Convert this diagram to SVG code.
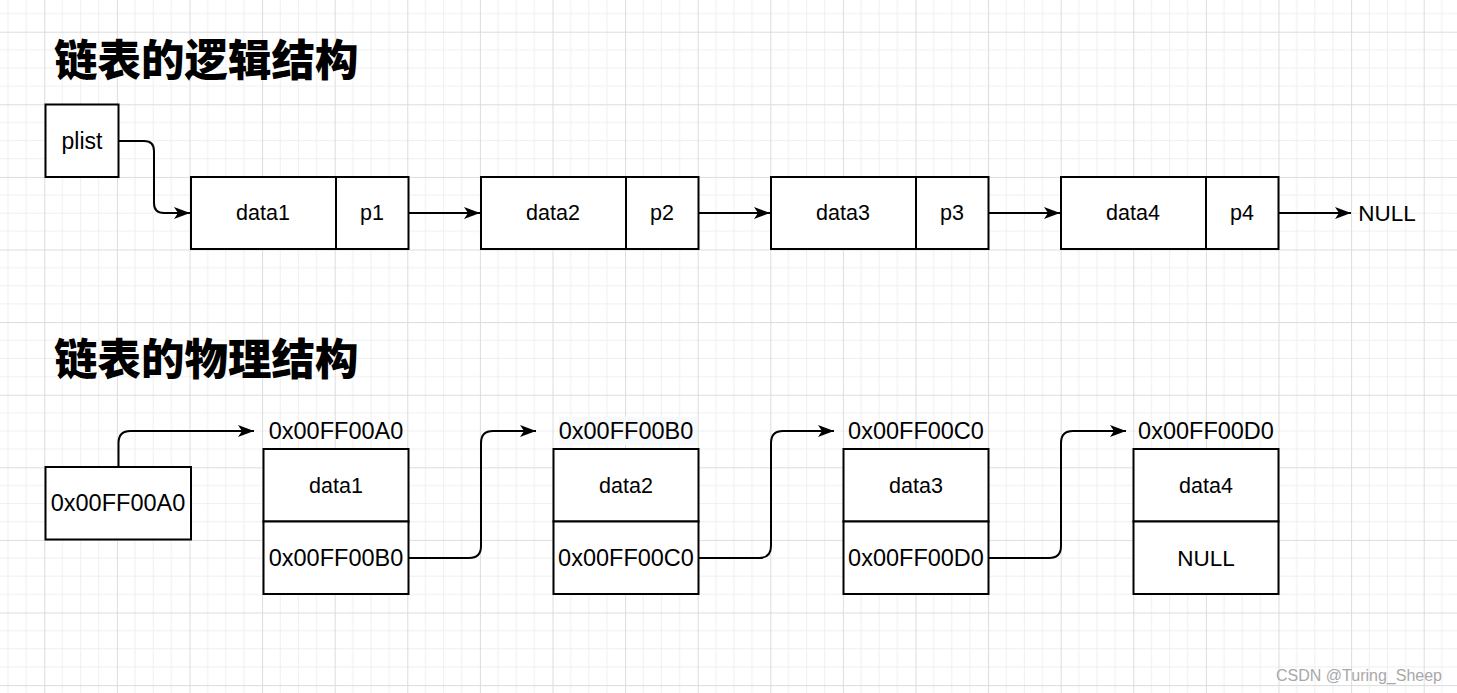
<svg xmlns="http://www.w3.org/2000/svg" width="1457" height="693" viewBox="0 0 1457 693">
<defs>
<pattern id="grid" patternUnits="userSpaceOnUse" x="44.3" y="31.7" width="72.6" height="72.6">
<path d="M18.15,0V72.6M36.3,0V72.6M54.45,0V72.6M0,18.15H72.6M0,36.3H72.6M0,54.45H72.6" stroke="#efefef" stroke-width="1" fill="none"/>
<path d="M0.5,0V72.6M0,0.5H72.6" stroke="#dcdcdc" stroke-width="1" fill="none"/>
</pattern>
<marker id="arr" markerUnits="userSpaceOnUse" viewBox="0 0 16 12" markerWidth="16" markerHeight="12" refX="16" refY="6" orient="auto">
<path d="M0,0 L16,6 L0,12 L4,6 z" fill="#000"/>
</marker>
<style>
.box{fill:#fff;stroke:#000;stroke-width:2}
.t{font-family:"Liberation Sans","Noto Sans",sans-serif;font-size:21.5px;fill:#000;text-anchor:middle;dominant-baseline:central}
.a{font-size:23.5px}
.title{font-family:"Noto Sans CJK SC","Noto Sans",sans-serif;font-size:43.5px;font-weight:900;fill:#000}
.c{fill:none;stroke:#000;stroke-width:2}
</style>
</defs>
<rect width="1457" height="693" fill="#fff"/>
<rect width="1457" height="693" fill="url(#grid)"/>

<text class="title" x="54" y="76">链表的逻辑结构</text>
<text class="title" x="54" y="375">链表的物理结构</text>

<g id="plist"><rect class="box" x="45.5" y="104.5" width="73" height="72.5"/><text class="t" x="82" y="141" style="font-size:23px">plist</text></g>
<g id="n1"><rect class="box" x="191" y="177" width="145" height="72"/><rect class="box" x="336" y="177" width="72.5" height="72"/><text class="t" x="263" y="213">data1</text><text class="t" x="372" y="213">p1</text></g>
<g id="n2"><rect class="box" x="481" y="177" width="145" height="72"/><rect class="box" x="626" y="177" width="72.5" height="72"/><text class="t" x="553" y="213">data2</text><text class="t" x="662" y="213">p2</text></g>
<g id="n3"><rect class="box" x="771" y="177" width="145" height="72"/><rect class="box" x="916" y="177" width="72.5" height="72"/><text class="t" x="843" y="213">data3</text><text class="t" x="952" y="213">p3</text></g>
<g id="n4"><rect class="box" x="1061" y="177" width="145" height="72"/><rect class="box" x="1206" y="177" width="72.5" height="72"/><text class="t" x="1133" y="213">data4</text><text class="t" x="1242" y="213">p4</text></g>
<g id="null1"><text class="t" x="1387" y="213" style="font-size:22.5px">NULL</text></g>

<g id="addr"><rect class="box" x="45.5" y="467" width="145.5" height="72.5"/><text class="t a" x="118" y="503">0x00FF00A0</text></g>
<g id="m1"><text class="t a" x="336" y="431">0x00FF00A0</text><rect class="box" x="263.5" y="449" width="145" height="72.5"/><rect class="box" x="263.5" y="521.5" width="145" height="72.5"/><text class="t" x="336" y="486">data1</text><text class="t a" x="336" y="558">0x00FF00B0</text></g>
<g id="m2"><rect x="559" y="417" width="138" height="28" fill="#f8f9fa"/><text class="t a" x="626" y="431">0x00FF00B0</text><rect class="box" x="553.5" y="449" width="145" height="72.5"/><rect class="box" x="553.5" y="521.5" width="145" height="72.5"/><text class="t" x="626" y="486">data2</text><text class="t a" x="626" y="558">0x00FF00C0</text></g>
<g id="m3"><text class="t a" x="916" y="431">0x00FF00C0</text><rect class="box" x="843.5" y="449" width="145" height="72.5"/><rect class="box" x="843.5" y="521.5" width="145" height="72.5"/><text class="t" x="916" y="486">data3</text><text class="t a" x="916" y="558">0x00FF00D0</text></g>
<g id="m4"><text class="t a" x="1206" y="431">0x00FF00D0</text><rect class="box" x="1133.5" y="449" width="145" height="72.5"/><rect class="box" x="1133.5" y="521.5" width="145" height="72.5"/><text class="t" x="1206" y="486">data4</text><text class="t" x="1206" y="558" style="font-size:22.5px">NULL</text></g>

<g id="connectors">
<path class="c" marker-end="url(#arr)" d="M118.5,141 H144 Q154,141 154,151 V203 Q154,213 164,213 H190"/>
<path class="c" marker-end="url(#arr)" d="M408.5,213 H480"/>
<path class="c" marker-end="url(#arr)" d="M698.5,213 H770"/>
<path class="c" marker-end="url(#arr)" d="M988.5,213 H1060"/>
<path class="c" marker-end="url(#arr)" d="M1278.5,213 H1351"/>
<path class="c" marker-end="url(#arr)" d="M118.5,467 V443 Q118.5,431 130.5,431 H254"/>
<path class="c" marker-end="url(#arr)" d="M408.5,558 H469 Q481,558 481,546 V443 Q481,431 493,431 H536"/>
<path class="c" marker-end="url(#arr)" d="M698.5,558 H759 Q771,558 771,546 V443 Q771,431 783,431 H834"/>
<path class="c" marker-end="url(#arr)" d="M988.5,558 H1049 Q1061,558 1061,546 V443 Q1061,431 1073,431 H1126"/>
</g>

<text x="1442" y="681" font-family="Liberation Sans,sans-serif" font-size="16" fill="#a8a8a8" text-anchor="end">CSDN @Turing_Sheep</text>
</svg>
